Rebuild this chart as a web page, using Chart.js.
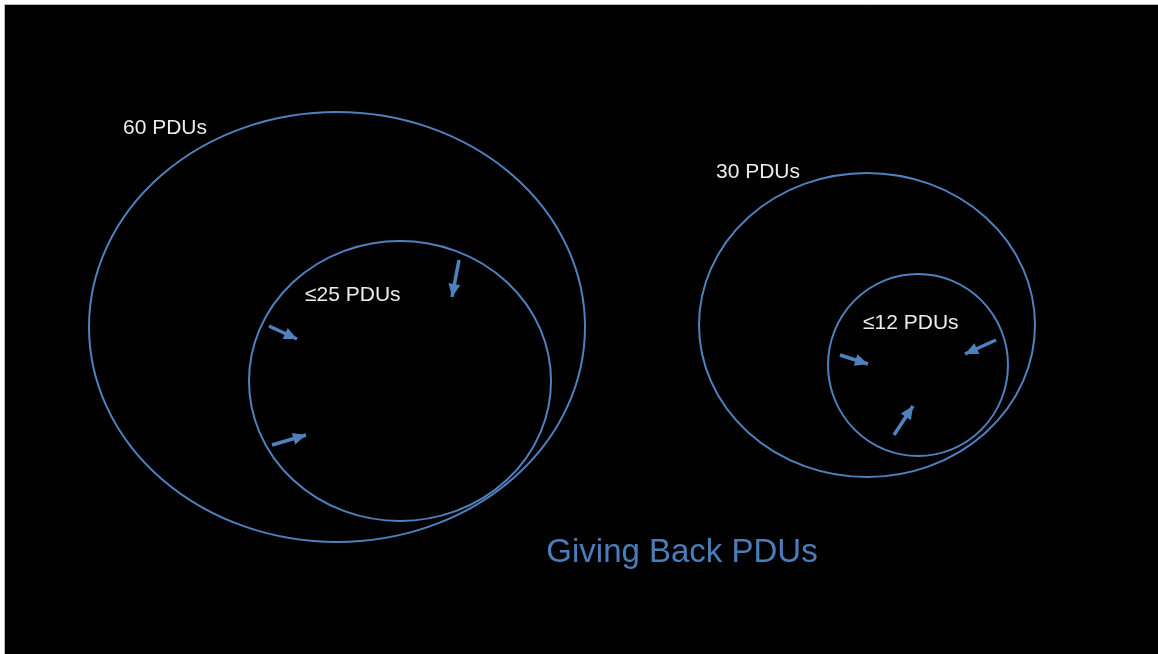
<!DOCTYPE html>
<html>
<head>
<meta charset="utf-8">
<script src="https://cdn.jsdelivr.net/npm/chart.js@4"></script>
<style>
html,body{margin:0;padding:0;background:#fff;}
#wrap{position:absolute;left:0;top:0;width:1158px;height:654px;}
</style>
</head>
<body>
<div id="wrap"><canvas id="c" width="1158" height="654"></canvas></div>
<script>
// Ellipses (center x, center y, radius x, radius y) in diagram units
const ellipseNames = ["60 PDUs", "≤25 PDUs", "30 PDUs", "≤12 PDUs"];
const ellipseCX = [337, 400, 867, 918];
const ellipseCY = [327, 381, 325, 365];
const ellipseRX = [248, 151, 168, 90];
const ellipseRY = [215, 140, 152, 91];
// Label anchor (left, baseline)
const labelX = [123, 305, 716, 863];
const labelY = [134, 301, 178, 329];
// Arrows: start -> end
const arrowX0 = [459, 269, 272, 996, 840, 894];
const arrowY0 = [260, 326, 445, 340, 355, 435];
const arrowX1 = [452, 297, 306, 965, 868, 913];
const arrowY1 = [297, 339, 435, 354, 364, 406];
const titleText = "Giving Back PDUs";
const titleX = 682, titleY = 562;

const BLUE = '#4f81bd';

const datasets = arrowX0.map((x0, i) => ({
  label: 'arrow' + (i + 1),
  data: [{x: x0, y: arrowY0[i]}, {x: arrowX1[i], y: arrowY1[i]}],
  showLine: true,
  borderColor: BLUE,
  borderWidth: 3.5,
  pointRadius: 0,
  fill: false
}));

const diagramPlugin = {
  id: 'diagram',
  beforeDatasetsDraw(chart) {
    const ctx = chart.ctx, xs = chart.scales.x, ys = chart.scales.y;
    ctx.save();
    // black slide area
    ctx.fillStyle = '#000';
    const bx = xs.getPixelForValue(5), by = ys.getPixelForValue(5);
    ctx.fillRect(bx, by, xs.getPixelForValue(1158) - bx, ys.getPixelForValue(654) - by);
    ctx.strokeStyle = '#bbbbbb';
    ctx.lineWidth = 1;
    ctx.beginPath();
    ctx.moveTo(bx - 0.5, ys.getPixelForValue(654));
    ctx.lineTo(bx - 0.5, by - 0.5);
    ctx.lineTo(xs.getPixelForValue(1158), by - 0.5);
    ctx.stroke();
    // ellipses
    ctx.strokeStyle = BLUE;
    ctx.lineWidth = 2;
    for (let i = 0; i < ellipseCX.length; i++) {
      const cx = xs.getPixelForValue(ellipseCX[i]);
      const cy = ys.getPixelForValue(ellipseCY[i]);
      const rx = Math.abs(xs.getPixelForValue(ellipseCX[i] + ellipseRX[i]) - cx);
      const ry = Math.abs(ys.getPixelForValue(ellipseCY[i] + ellipseRY[i]) - cy);
      ctx.beginPath();
      ctx.ellipse(cx, cy, rx, ry, 0, 0, Math.PI * 2);
      ctx.stroke();
    }
    // labels
    ctx.fillStyle = '#ececec';
    ctx.font = '21px "Liberation Sans", Arial, sans-serif';
    ctx.textBaseline = 'alphabetic';
    ctx.textAlign = 'left';
    for (let i = 0; i < ellipseNames.length; i++) {
      ctx.fillText(ellipseNames[i], xs.getPixelForValue(labelX[i]), ys.getPixelForValue(labelY[i]));
    }
    // title
    ctx.fillStyle = '#4a7ebb';
    ctx.font = '33px "Liberation Sans", Arial, sans-serif';
    ctx.textAlign = 'center';
    ctx.fillText(titleText, xs.getPixelForValue(titleX), ys.getPixelForValue(titleY));
    ctx.restore();
  },
  afterDatasetsDraw(chart) {
    const ctx = chart.ctx, xs = chart.scales.x, ys = chart.scales.y;
    ctx.save();
    ctx.fillStyle = BLUE;
    for (let i = 0; i < arrowX0.length; i++) {
      const x0 = xs.getPixelForValue(arrowX0[i]), y0 = ys.getPixelForValue(arrowY0[i]);
      const x1 = xs.getPixelForValue(arrowX1[i]), y1 = ys.getPixelForValue(arrowY1[i]);
      const a = Math.atan2(y1 - y0, x1 - x0);
      const L = 13, W = 6;
      ctx.beginPath();
      ctx.moveTo(x1, y1);
      ctx.lineTo(x1 - L * Math.cos(a) + W * Math.sin(a), y1 - L * Math.sin(a) - W * Math.cos(a));
      ctx.lineTo(x1 - L * Math.cos(a) - W * Math.sin(a), y1 - L * Math.sin(a) + W * Math.cos(a));
      ctx.closePath();
      ctx.fill();
    }
    ctx.restore();
  }
};

new Chart(document.getElementById('c'), {
  type: 'scatter',
  data: { datasets },
  options: {
    responsive: false,
    animation: false,
    layout: { padding: 0 },
    plugins: { legend: { display: false }, tooltip: { enabled: false }, title: { display: false } },
    scales: {
      x: { type: 'linear', min: 0, max: 1158, display: false },
      y: { type: 'linear', min: 0, max: 654, reverse: true, display: false }
    }
  },
  plugins: [diagramPlugin]
});
</script>
</body>
</html>
